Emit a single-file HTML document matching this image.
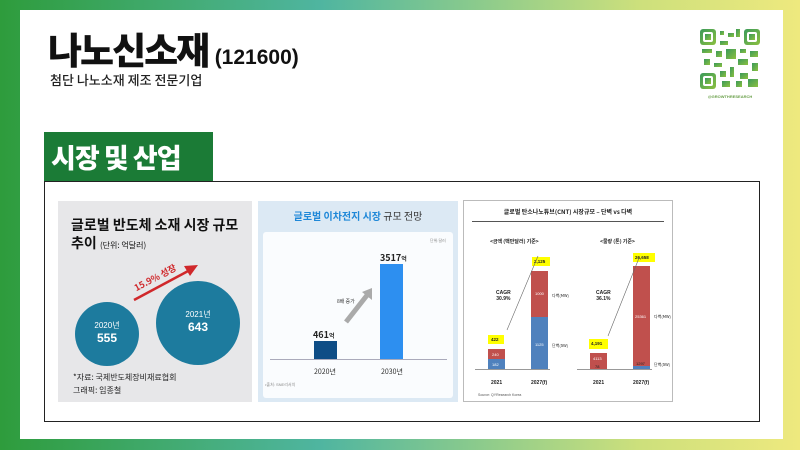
<!DOCTYPE html>
<html><head><meta charset="utf-8"><style>
*{margin:0;padding:0;box-sizing:border-box}
body{width:800px;height:450px;position:relative;overflow:hidden;font-family:"Liberation Sans","Noto Sans CJK KR",sans-serif;background:linear-gradient(90deg,#2e9c3c 0%,#45ad7a 25%,#4fb5a0 40%,#8ccb8c 60%,#cde07c 80%,#eee97e 100%)}
.a{position:absolute}
.k{font-family:"Noto Sans CJK KR",sans-serif}
</style></head><body>
<div class="a" style="left:20px;top:10px;width:763px;height:429px;background:#fff"></div>
<div class="a k" style="left:48px;top:26px;font-size:37px;font-weight:900;color:#111;letter-spacing:-2px;line-height:44px">나노신소재 <span style="font-family:'Liberation Sans';font-size:21px;font-weight:bold;letter-spacing:0">(121600)</span></div>
<div class="a k" style="left:50px;top:70px;font-size:13px;font-weight:500;color:#222">첨단 나노소재 제조 전문기업</div>
<svg class="a" style="left:700px;top:29px" width="60" height="60" viewBox="0 0 60 60">
<defs><linearGradient id="q" x1="0" y1="0" x2="1" y2="1"><stop offset="0" stop-color="#3a9a5a"/><stop offset="1" stop-color="#8cc040"/></linearGradient></defs>
<g fill="url(#q)"><rect x="0" y="0" width="16" height="16" rx="3"/><rect x="44" y="0" width="16" height="16" rx="3"/><rect x="0" y="44" width="16" height="16" rx="3"/>
<rect x="20" y="2" width="4" height="4"/><rect x="28" y="4" width="6" height="4"/><rect x="36" y="0" width="4" height="8"/><rect x="20" y="12" width="8" height="4"/><rect x="2" y="20" width="10" height="4"/><rect x="16" y="22" width="6" height="6"/><rect x="26" y="20" width="10" height="10"/><rect x="40" y="20" width="6" height="4"/><rect x="50" y="22" width="8" height="6"/><rect x="4" y="30" width="6" height="6"/><rect x="14" y="34" width="8" height="4"/><rect x="38" y="30" width="10" height="6"/><rect x="52" y="34" width="6" height="8"/><rect x="20" y="42" width="6" height="6"/><rect x="30" y="38" width="4" height="10"/><rect x="40" y="44" width="8" height="6"/><rect x="22" y="52" width="8" height="6"/><rect x="36" y="52" width="6" height="6"/><rect x="48" y="50" width="10" height="8"/></g>
<g fill="#fff"><rect x="3" y="3" width="10" height="10" rx="2"/><rect x="47" y="3" width="10" height="10" rx="2"/><rect x="3" y="47" width="10" height="10" rx="2"/></g>
<g fill="url(#q)"><rect x="5" y="5" width="6" height="6"/><rect x="49" y="5" width="6" height="6"/><rect x="5" y="49" width="6" height="6"/></g></svg>
<div class="a" style="left:700px;top:94px;width:60px;text-align:center;font-size:4px;color:#6aa04a;font-weight:bold">@GROWTHRESEARCH</div>
<div class="a k" style="left:44px;top:132px;width:169px;height:50px;background:#1b7b36;color:#fff;font-size:27px;font-weight:900;padding-left:7px;line-height:50px;letter-spacing:-1px">시장 및 산업</div>
<div class="a" style="left:44px;top:181px;width:716px;height:241px;border:1.5px solid #222"></div>
<!-- panel1 -->
<div class="a" style="left:58px;top:201px;width:194px;height:201px;background:#e7e7e9"></div>
<div class="a k" style="left:71px;top:216px;font-size:14px;font-weight:bold;color:#111;line-height:18px">글로벌 반도체 소재 시장 규모<br>추이 <span style="font-size:8px;font-weight:normal">(단위: 억달러)</span></div>
<div class="a" style="left:75px;top:302px;width:64px;height:64px;border-radius:50%;background:#1d7b9e;color:#fff;text-align:center;font-size:8px;padding-top:18px" class="k">2020년<br><b style="font-size:12px">555</b></div>
<div class="a" style="left:156px;top:281px;width:84px;height:84px;border-radius:50%;background:#1d7b9e;color:#fff;text-align:center;font-size:8px;padding-top:28px">2021년<br><b style="font-size:12px">643</b></div>
<svg class="a" style="left:130px;top:260px" width="70" height="45"><line x1="4" y1="40" x2="60" y2="10" stroke="#d0282b" stroke-width="2.5"/><polygon points="68,5 54,6 60,16" fill="#d0282b"/></svg>
<div class="a k" style="left:132px;top:271px;font-size:9px;font-weight:bold;color:#d0282b;transform:rotate(-28deg)">15.9% 성장</div>
<div class="a k" style="left:73px;top:371px;font-size:8px;color:#222;line-height:13px">*자료: 국제반도체장비재료협회<br>그래픽: 임종철</div>
<!-- panel2 -->
<div class="a" style="left:258px;top:201px;width:200px;height:201px;background:#dce9f4"></div>
<div class="a k" style="left:258px;top:208px;width:200px;text-align:center;font-size:10px;font-weight:bold;color:#1f88d8">글로벌 이차전지 시장 <span style="color:#333;font-weight:normal">규모 전망</span></div>
<div class="a" style="left:263px;top:232px;width:190px;height:166px;background:#fafcfe;border-radius:3px"></div>
<div class="a" style="left:430px;top:238px;font-size:4px;color:#888">단위:달러</div>
<div class="a" style="left:270px;top:359px;width:177px;height:1px;background:#aab"></div>
<div class="a" style="left:314px;top:341px;width:23px;height:18px;background:#0e4d86"></div>
<div class="a" style="left:380px;top:264px;width:23px;height:95px;background:#2d8ff0"></div>
<div class="a k" style="left:313px;top:328px;font-size:9px;font-weight:bold;color:#222">461<span style="font-size:6px">억</span></div>
<div class="a k" style="left:380px;top:251px;font-size:9px;font-weight:bold;color:#222">3517<span style="font-size:6px">억</span></div>
<svg class="a" style="left:340px;top:284px" width="36" height="42"><line x1="6" y1="38" x2="28" y2="10" stroke="#aaa" stroke-width="5"/><polygon points="32,4 22,8 32,16" fill="#aaa"/></svg>
<div class="a k" style="left:337px;top:298px;font-size:5px;color:#333">8배 증가</div>
<div class="a k" style="left:314px;top:367px;font-size:7px;color:#333">2020년</div>
<div class="a k" style="left:381px;top:367px;font-size:7px;color:#333">2030년</div>
<div class="a" style="left:265px;top:382px;font-size:4px;color:#888">•출처: SNE리서치</div>
<!-- panel3 -->
<div class="a" style="left:463px;top:200px;width:210px;height:202px;background:#fff;border:1px solid #bbb"></div>
<div class="a k" style="left:463px;top:207px;width:210px;text-align:center;font-size:6px;font-weight:bold;color:#222">글로벌 탄소나노튜브(CNT) 시장규모 – 단벽 vs 다벽</div>
<div class="a" style="left:472px;top:221px;width:192px;height:1px;background:#555"></div>
<div class="a k" style="left:490px;top:238px;font-size:5px;font-weight:bold;color:#222">&lt;금액 (백만달러) 기준&gt;</div>
<div class="a k" style="left:600px;top:238px;font-size:5px;font-weight:bold;color:#222">&lt;물량 (톤) 기준&gt;</div>
<div class="a" style="left:475px;top:369px;width:75px;height:1px;background:#999"></div>
<div class="a" style="left:577px;top:369px;width:75px;height:1px;background:#999"></div>
<div class="a" style="left:488px;top:349px;width:17px;height:10px;background:#c0504d"></div>
<div class="a" style="left:488px;top:359px;width:17px;height:10px;background:#4f81bd"></div>
<div class="a" style="left:531px;top:271px;width:17px;height:46px;background:#c0504d"></div>
<div class="a" style="left:531px;top:317px;width:17px;height:52px;background:#4f81bd"></div>
<div class="a" style="left:590px;top:353px;width:17px;height:16px;background:#c0504d"></div>
<div class="a" style="left:633px;top:266px;width:17px;height:100px;background:#c0504d"></div>
<div class="a" style="left:633px;top:366px;width:17px;height:3px;background:#4f81bd"></div>
<div class="a" style="left:488px;top:335px;width:16px;height:9px;background:#ff0"></div>
<div class="a" style="left:532px;top:257px;width:18px;height:9px;background:#ff0"></div>
<div class="a" style="left:589px;top:339px;width:19px;height:10px;background:#ff0"></div>
<div class="a" style="left:633px;top:253px;width:22px;height:9px;background:#ff0"></div>
<div class="a" style="font-size:4.5px;font-weight:bold;color:#222;left:491px;top:337px">422</div>
<div class="a" style="font-size:4.5px;font-weight:bold;color:#222;left:534px;top:259px">2,125</div>
<div class="a" style="font-size:4.5px;font-weight:bold;color:#222;left:591px;top:341px">4,191</div>
<div class="a" style="font-size:4.5px;font-weight:bold;color:#222;left:635px;top:255px">26,658</div>
<div class="a" style="font-size:4px;color:#fff;left:492px;top:352px">240</div>
<div class="a" style="font-size:4px;color:#fff;left:492px;top:362px">182</div>
<div class="a" style="font-size:4px;color:#fff;left:535px;top:291px">1000</div>
<div class="a" style="font-size:4px;color:#fff;left:535px;top:342px">1125</div>
<div class="a" style="font-size:4px;color:#fff;left:593px;top:356px">4113</div>
<div class="a" style="font-size:4px;color:#222;left:595px;top:364px">78</div>
<div class="a" style="font-size:4px;color:#fff;left:635px;top:314px">25361</div>
<div class="a" style="font-size:4px;color:#222;left:636px;top:361px">1297</div>
<div class="a k" style="font-size:4px;color:#222;left:552px;top:293px">다벽(MW)</div>
<div class="a k" style="font-size:4px;color:#222;left:552px;top:343px">단벽(SW)</div>
<div class="a k" style="font-size:4px;color:#222;left:654px;top:314px">다벽(MW)</div>
<div class="a k" style="font-size:4px;color:#222;left:654px;top:362px">단벽(SW)</div>
<div class="a" style="font-size:5px;font-weight:bold;color:#222;left:496px;top:290px;text-align:center">CAGR<br>30.9%</div>
<div class="a" style="font-size:5px;font-weight:bold;color:#222;left:596px;top:290px;text-align:center">CAGR<br>36.1%</div>
<svg class="a" style="left:470px;top:200px" width="200" height="150"><line x1="37" y1="130" x2="68" y2="56" stroke="#666" stroke-width="0.6"/><line x1="138" y1="136" x2="169" y2="58" stroke="#666" stroke-width="0.6"/></svg>
<div class="a" style="font-size:5px;font-weight:bold;color:#222;left:491px;top:380px">2021</div>
<div class="a" style="font-size:5px;font-weight:bold;color:#222;left:531px;top:380px">2027(f)</div>
<div class="a" style="font-size:5px;font-weight:bold;color:#222;left:593px;top:380px">2021</div>
<div class="a" style="font-size:5px;font-weight:bold;color:#222;left:633px;top:380px">2027(f)</div>
<div class="a" style="font-size:3.5px;color:#555;left:478px;top:393px">Source: QYResearch Korea</div>
</body></html>
